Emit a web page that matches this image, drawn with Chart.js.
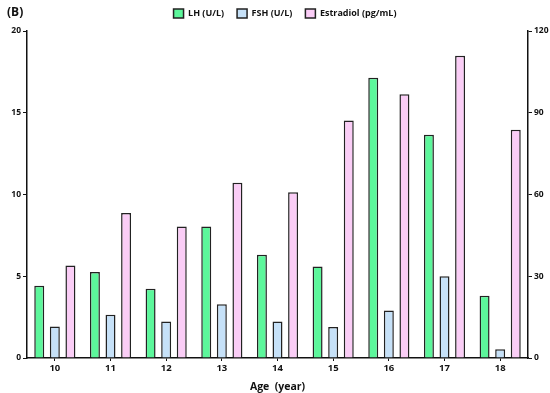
<!DOCTYPE html>
<html lang="en">
<head>
  <meta charset="UTF-8" />
  <title>Hormone levels by age</title>
  <script src="https://cdn.jsdelivr.net/npm/chart.js"></script>
  <style>
    * { box-sizing: border-box; }
    body { margin: 0; background: #fff; }
    .wrap { width: 550px; height: 393px; position: relative; }
  </style>
</head>
<body>
  <div class="wrap">
    <canvas id="hormoneChart"></canvas>
  </div>

  <script>
    // data
    const ages = ['10', '11', '12', '13', '14', '15', '16', '17', '18'];
    const lhValues = [4.42, 5.26, 4.24, 8.05, 6.32, 5.6, 17.14, 13.66, 3.81];
    const fshValues = [1.92, 2.65, 2.24, 3.28, 2.24, 1.9, 2.9, 5.0, 0.53];
    const estradiolValues = [33.9, 53.2, 48.3, 64.3, 60.8, 87.2, 96.8, 110.9, 83.8];
    const leftTicks = [0, 5, 10, 15, 20];
    const rightTicks = [0, 30, 60, 90, 120];

    const FONT = '"Open Sans", sans-serif';
    const INK = '#111';

    // the "(B)" panel letter sits on the legend row,
    // and the legend in the figure is a little right of centre
    const panelLabel = {
      id: 'panelLabel',
      beforeLayout(chart) {
        const lg = chart.legend;
        if (lg && !lg._fixedHeight) {
          const fit = lg.fit;
          lg.fit = function () { fit.call(this); this.height = 35; };
          lg._fixedHeight = true;
        }
      },
      afterLayout(chart) {
        chart.legend.left += 10;
        chart.legend.right += 10;
      },
      afterDraw(chart) {
        const c = chart.ctx;
        c.save();
        c.font = 'bold 12px ' + FONT;
        c.fillStyle = INK;
        c.textBaseline = 'middle';
        c.fillText('(B)', 7, 13);
        c.restore();
      }
    };

    const barStyle = {
      borderColor: '#222',
      borderWidth: 1.5,
      borderSkipped: 'bottom',
      categoryPercentage: 0.84,
      barPercentage: 0.64
    };

    new Chart(document.getElementById('hormoneChart'), {
      type: 'bar',
      data: {
        labels: ages,
        datasets: [
          { label: 'LH (U/L)', data: lhValues, backgroundColor: '#5cf79b', yAxisID: 'yLeft', ...barStyle },
          { label: 'FSH (U/L)', data: fshValues, backgroundColor: '#c6e1f8', yAxisID: 'yLeft', ...barStyle },
          { label: 'Estradiol (pg/mL)', data: estradiolValues, backgroundColor: '#facdf6', yAxisID: 'yRight', ...barStyle }
        ]
      },
      options: {
        responsive: true,
        maintainAspectRatio: false,
        animation: false,
        layout: { padding: { top: -4, left: 0, right: 0, bottom: 0 } },
        plugins: {
          title: { display: false },
          tooltip: { enabled: false },
          legend: {
            position: 'top',
            labels: {
              font: { family: FONT, size: 9, weight: 'bold' },
              color: INK,
              boxWidth: 10,
              boxHeight: 9,
              padding: 13
            }
          }
        },
        scales: {
          x: {
            offset: true,
            grid: { display: true, drawOnChartArea: false, drawTicks: true, tickLength: 3, offset: false, color: INK },
            border: { display: true, color: INK, width: 1.5 },
            ticks: { font: { family: FONT, size: 9.5, weight: 'bold' }, color: INK, padding: 2 },
            title: {
              display: true,
              text: 'Age  (year)',
              font: { family: FONT, size: 10.5, weight: 'bold' },
              color: INK,
              padding: { top: 1, bottom: 0 }
            },
            afterFit(scale) { scale.height = 35; }
          },
          yLeft: {
            position: 'left',
            min: 0,
            max: 20,
            afterBuildTicks(scale) { scale.ticks = leftTicks.map(v => ({ value: v })); },
            grid: { display: true, drawOnChartArea: false, drawTicks: true, tickLength: 4, color: INK },
            border: { display: true, color: INK, width: 1.5 },
            ticks: { font: { family: FONT, size: 8.5, weight: 'bold' }, color: INK, padding: 2 },
            afterFit(scale) { scale.width = 27; }
          },
          yRight: {
            position: 'right',
            min: 0,
            max: 120,
            afterBuildTicks(scale) { scale.ticks = rightTicks.map(v => ({ value: v })); },
            grid: { display: true, drawOnChartArea: false, drawTicks: true, tickLength: 4, color: INK },
            border: { display: true, color: INK, width: 1.5 },
            ticks: { font: { family: FONT, size: 8.5, weight: 'bold' }, color: INK, padding: 2 },
            afterFit(scale) { scale.width = 22; }
          }
        }
      },
      plugins: [panelLabel]
    });
  </script>
</body>
</html>
